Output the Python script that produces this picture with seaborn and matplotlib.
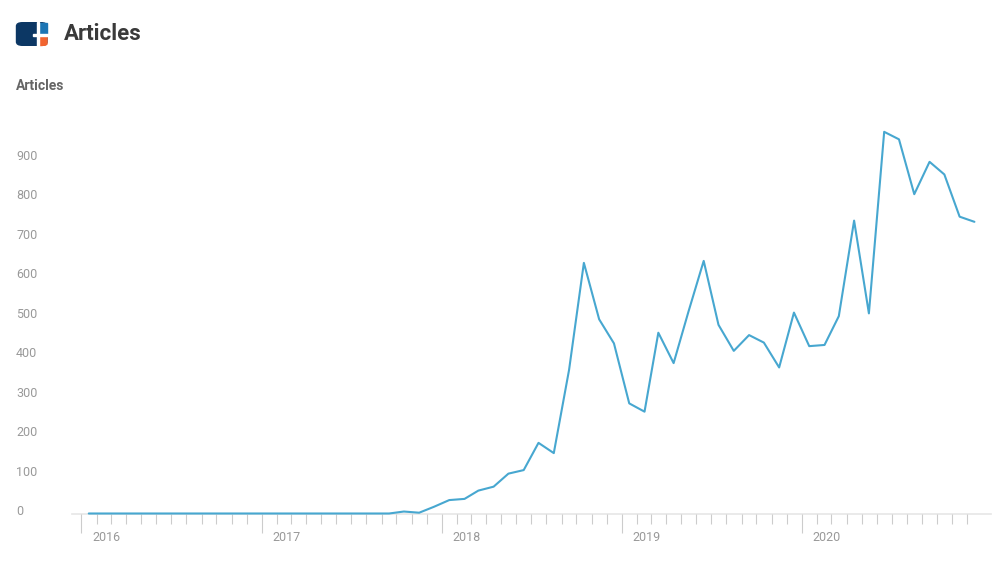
import numpy as np
import pandas as pd
import matplotlib.pyplot as plt
import matplotlib.dates as mdates
from matplotlib.patches import FancyBboxPatch, Rectangle
from matplotlib.transforms import ScaledTranslation
import seaborn as sns

# monthly article counts, Jan 2016 - Dec 2020
months = pd.date_range("2016-01-01", periods=60, freq="MS") + pd.Timedelta(days=15)
articles = [0, 0, 0, 0, 0, 0, 0, 0, 0, 0, 0, 0,
            0, 0, 0, 0, 0, 0, 0, 0, 0, 5, 2, 17,
            34, 37, 58, 68, 101, 110, 179, 153, 364, 635, 492, 431,
            279, 258, 458, 381, 511, 640, 478, 412, 452, 433, 370, 509,
            424, 427, 500, 742, 507, 967, 948, 809, 891, 859, 752, 739]
years = [2016, 2017, 2018, 2019, 2020]
y_ticks = [0, 100, 200, 300, 400, 500, 600, 700, 800, 900]

data = pd.DataFrame({"month": months, "articles": articles})

sns.set_style("white")
plt.rcParams["font.family"] = ["Roboto", "DejaVu Sans"]

fig = plt.figure(figsize=(10.07, 5.67), dpi=100)
W, H = 1007, 567
ax = fig.add_axes([72 / W, 1 - 513.5 / H, (990.7 - 72) / W, (513.5 - 118.8) / H])

sns.lineplot(data=data, x="month", y="articles", ax=ax, color="#47a7d0",
             linewidth=1.5, clip_on=False)

ax.set_xlim(pd.Timestamp("2015-12-13"), pd.Timestamp("2021-01-18"))
ax.set_ylim(0, 1000)
ax.set_yticks(y_ticks)
ax.set_xlabel("")
ax.set_ylabel("")

for s in ["top", "right", "left"]:
    ax.spines[s].set_visible(False)
ax.spines["bottom"].set_color("#e6e6e6")
ax.spines["bottom"].set_linewidth(1.2)
ax.spines["bottom"].set_zorder(0)

ax.set_xticks([pd.Timestamp(f"{y}-01-01") for y in years])
ax.set_xticks(pd.date_range("2016-01-01", "2020-12-01", freq="MS"), minor=True)
ax.xaxis.set_major_formatter(mdates.DateFormatter("%Y"))
ax.tick_params(axis="x", which="both", bottom=True)
ax.tick_params(axis="x", which="major", length=13.7, width=0.8, color="#cccccc",
               labelsize=9, labelcolor="#999999", pad=1)
ax.tick_params(axis="x", which="minor", length=7.2, width=0.8, color="#cccccc")
ax.tick_params(axis="y", length=0, pad=40.3, labelsize=9, labelcolor="#999999")

for lab in ax.get_xticklabels():
    lab.set_ha("left")
    lab.set_transform(lab.get_transform() + ScaledTranslation(0.11, 0.025, fig.dpi_scale_trans))
for lab in ax.get_yticklabels():
    lab.set_ha("left")
    lab.set_transform(lab.get_transform() + ScaledTranslation(0, 0.033, fig.dpi_scale_trans))

# header: logo + title
fig.patches.append(FancyBboxPatch((16.5 / W, 1 - 45.3 / H), 30.5 / W, 22.6 / H,
                                  boxstyle="round,pad=0,rounding_size=0.006",
                                  transform=fig.transFigure, color="#0c3764", zorder=1))
fig.patches.append(Rectangle((38.0 / W, 1 - 34.7 / H), 9.0 / W, 12 / H,
                             transform=fig.transFigure, color="#1c75b4", zorder=2))
fig.patches.append(FancyBboxPatch((38.0 / W, 1 - 45.3 / H), 9.0 / W, 10.6 / H,
                                  boxstyle="round,pad=0,rounding_size=0.003",
                                  transform=fig.transFigure, color="#f26430", zorder=2))
fig.patches.append(Rectangle((38.0 / W, 1 - 45.3 / H), 4 / W, 10.6 / H,
                             transform=fig.transFigure, color="#f26430", zorder=2))
fig.patches.append(Rectangle((37.2 / W, 1 - 45.5 / H), 1.3 / W, 23.2 / H,
                             transform=fig.transFigure, color="white", zorder=3))
fig.patches.append(Rectangle((32.5 / W, 1 - 35.6 / H), 16 / W, 1.6 / H,
                             transform=fig.transFigure, color="white", zorder=3))

fig.text(64 / W, 1 - 34.5 / H, "Articles", fontsize=16, fontweight="bold",
         color="#3a3a3a", va="center", ha="left")
fig.text(16 / W, 1 - 86.5 / H, "Articles", fontsize=10, fontweight="bold",
         color="#666666", va="center", ha="left")

fig.savefig("out.png", dpi=100, facecolor="white")
